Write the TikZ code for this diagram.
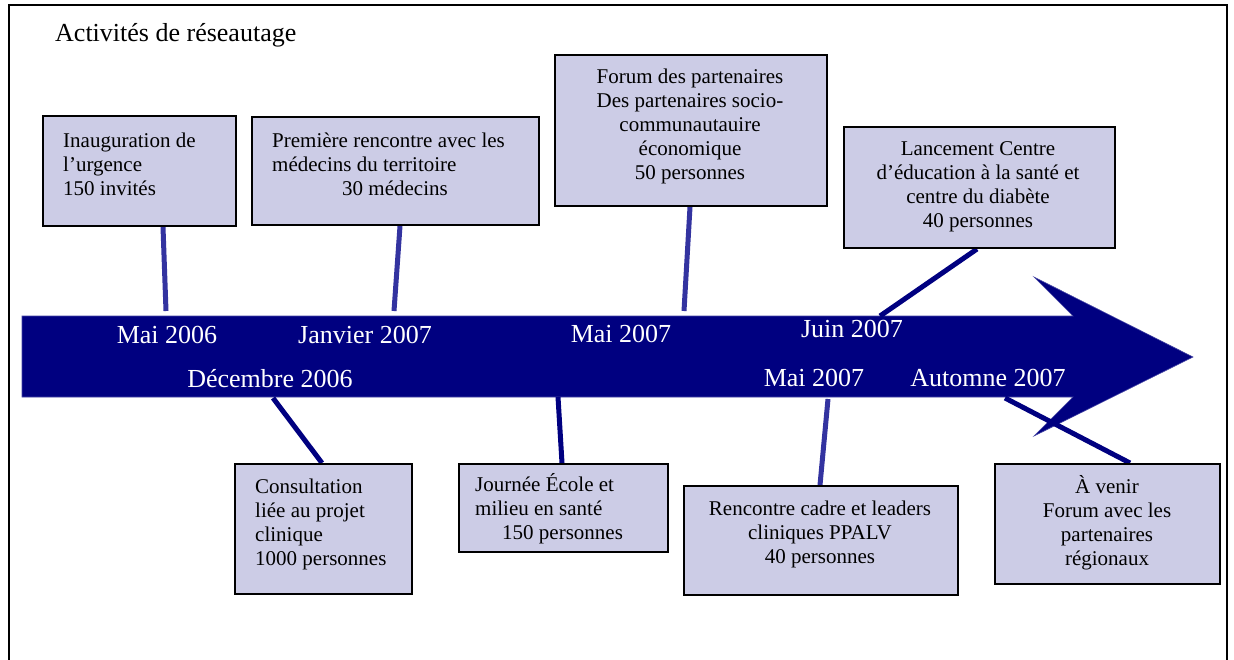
\documentclass[tikz,border=0pt]{standalone}
\usepackage{fontspec}
\setmainfont{Liberation Serif}
\usetikzlibrary{calc,backgrounds}
\definecolor{navyarrow}{RGB}{0,0,128}
\definecolor{arrowedge}{RGB}{70,70,165}
\definecolor{linklight}{RGB}{51,51,160}
\definecolor{linkdark}{RGB}{0,0,128}
\definecolor{boxfill}{RGB}{204,204,230}
% fixed-height strut so every text block starts 20pt above its first baseline
\newcommand\tlstrut{\rule{0pt}{20pt}}

\begin{document}
\begin{tikzpicture}[x=1pt,y=-1pt,
  eventbox/.style={draw=black, line width=2pt, fill=boxfill, inner sep=0pt, anchor=north west},
  boxtext/.style={inner sep=0pt, font=\fontsize{21}{24}\selectfont},
  datelabel/.style={inner sep=0pt, anchor=base, text=white, font=\fontsize{26}{30}\selectfont},
  linklt/.style={draw=linklight, line width=5pt},
  linkdk/.style={draw=linkdark, line width=5pt}]

\useasboundingbox (0,0) rectangle (1234,659);

% frame, open at the bottom
\draw[line width=1.5pt] (9,662) -- (9,5) -- (1227,5) -- (1227,662);

\node[anchor=base west, inner sep=0pt, font=\fontsize{26}{30}\selectfont] (title) at (55,41) {Activités de réseautage};

% event boxes
\node[eventbox, minimum width=193pt, minimum height=110pt] (b1) at (42,115) {};
\node[eventbox, minimum width=287pt, minimum height=108pt] (b2) at (251,116) {};
\node[eventbox, minimum width=272pt, minimum height=151pt] (b3) at (554,54) {};
\node[eventbox, minimum width=271pt, minimum height=121pt] (b4) at (843,126) {};
\node[eventbox, minimum width=177pt, minimum height=130pt] (b5) at (234,463) {};
\node[eventbox, minimum width=209pt, minimum height=88pt] (b6) at (458,463) {};
\node[eventbox, minimum width=274pt, minimum height=109pt] (b7) at (683,485) {};
\node[eventbox, minimum width=225pt, minimum height=120pt] (b8) at (994,463) {};

% box texts
\node[boxtext, anchor=north west, align=left] (t1) at (63,127)
  {\tlstrut Inauguration de\\l’urgence\\150 invités};
\node[boxtext, anchor=north west, align=left] (t2) at (272,127)
  {\tlstrut Première rencontre avec les\\médecins du territoire\\\hspace*{70pt}30 médecins};
\node[boxtext, anchor=north, align=center] (t3) at (690,63)
  {\tlstrut Forum des partenaires\\Des partenaires socio-\\communautauire\\économique\\50 personnes};
\node[boxtext, anchor=north, align=center] (t4) at (978,135)
  {\tlstrut Lancement Centre\\d’éducation à la santé et\\centre du diabète\\40 personnes};
\node[boxtext, anchor=north west, align=left] (t5) at (255,473)
  {\tlstrut Consultation\\liée au projet\\clinique\\1000 personnes};
\begin{scope}
  \clip (458,463) rectangle (667,543);
  \node[boxtext, anchor=north west, align=left] (t6) at (475,471)
    {\tlstrut Journée École et\\milieu en santé\\\hspace*{27pt}150 personnes};
\end{scope}
\node[boxtext, anchor=north, align=center] (t7) at (820,495)
  {\tlstrut Rencontre cadre et leaders\\cliniques PPALV\\40 personnes};
\node[boxtext, anchor=north, align=center] (t8) at (1107,473)
  {\tlstrut À venir\\Forum avec les\\partenaires\\régionaux};

% dates on the timeline
\node[datelabel] (d1) at (167,343) {Mai 2006};
\node[datelabel] (d2) at (365,343) {Janvier 2007};
\node[datelabel] (d3) at (621,342) {Mai 2007};
\node[datelabel] (d4) at (852,337) {Juin 2007};
\node[datelabel] (d5) at (270,387) {Décembre 2006};
\node[datelabel] (d6) at (814,386) {Mai 2007};
\node[datelabel] (d7) at (988,386) {Automne 2007};

% connector ends near the timeline
\coordinate (m1) at (166,311);
\coordinate (m2) at (394,311);
\coordinate (m3) at (684,311);
\coordinate (m4) at (880,316);
\coordinate (m5) at (273,398);
\coordinate (m6) at (558,397);
\coordinate (m7) at (828,399);
\coordinate (m8) at (1005,398);

\begin{scope}[on background layer]
  \fill[white] (0,0) rectangle (1234,659);
  % timeline arrow
  \filldraw[fill=navyarrow, draw=arrowedge, line width=0.6pt]
    (22,316) -- (1073,316) -- (1034,277) -- (1193,357) -- (1034,436) -- (1073,397) -- (22,397) -- cycle;
  % connectors
  \draw[linklt] ($(b1.south west)+(121,0)$) -- (m1);
  \draw[linklt] ($(b2.south west)+(149,0)$) -- (m2);
  \draw[linklt] ($(b3.south west)+(136,0)$) -- (m3);
  \draw[linkdk] ($(b4.south west)+(134,0)$) -- (m4);
  \draw[linkdk] ($(b5.north west)+(88,0)$) -- (m5);
  \draw[linkdk] ($(b6.north west)+(104,0)$) -- (m6);
  \draw[linklt] ($(b7.north west)+(137,0)$) -- (m7);
  \draw[linkdk] ($(b8.north west)+(136,0)$) -- (m8);
\end{scope}
\end{tikzpicture}
\end{document}
